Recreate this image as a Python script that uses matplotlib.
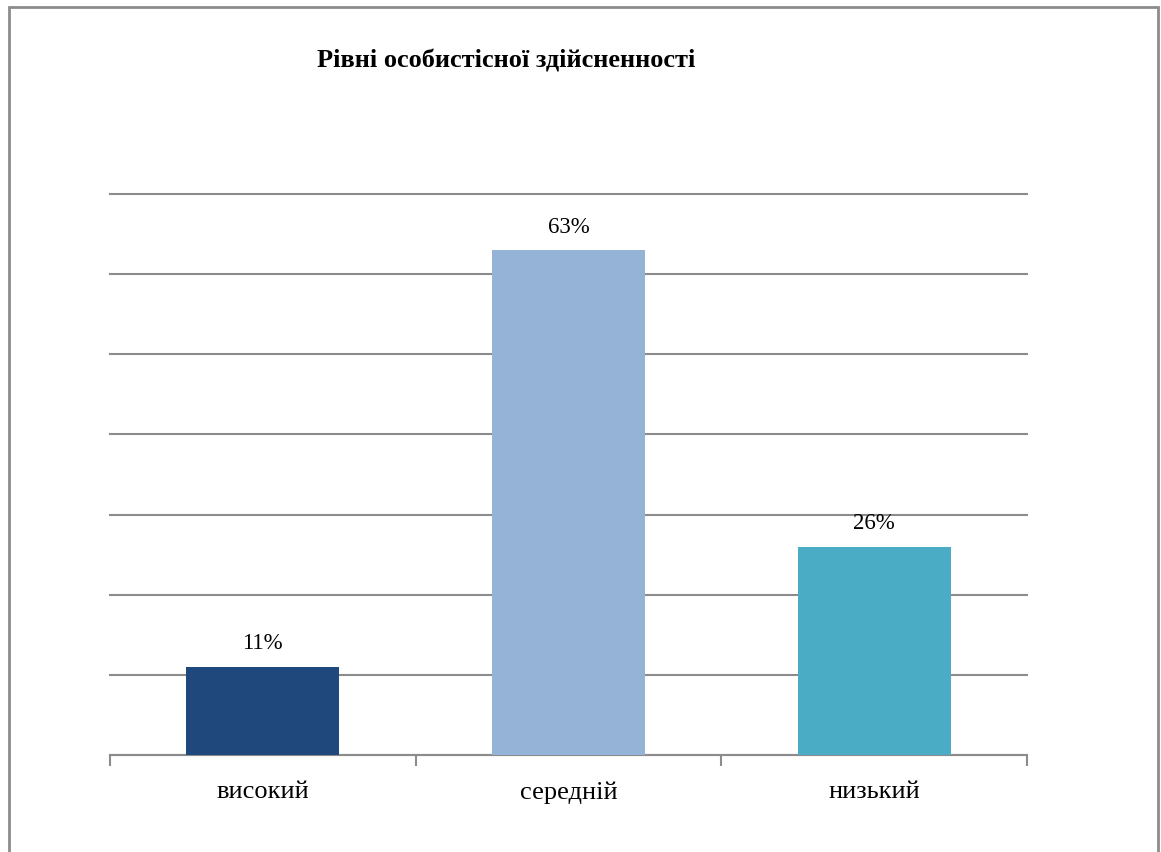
import matplotlib.pyplot as plt
from matplotlib.patches import Rectangle

categories = ['високий', 'середній', 'низький']
values = [11, 63, 26]
value_labels = ['11%', '63%', '26%']
colors = ['#1F497D', '#95B3D7', '#4BACC6']

plt.rcParams['font.family'] = ['Liberation Serif', 'DejaVu Serif']

fig = plt.figure(figsize=(11.61, 8.52), dpi=100)
ax = fig.add_axes([110 / 1161, 1 - 755 / 852, 917 / 1161, 561 / 852])

# рамка навколо діаграми
fig.patches.append(Rectangle((8.5 / 1161, -0.05), 1149 / 1161, 1 - 6.5 / 852 + 0.05,
                             transform=fig.transFigure, fill=False,
                             edgecolor='#8c8c8c', linewidth=2))

x = range(len(categories))
bars = ax.bar(x, values, width=0.5, color=colors, zorder=3)
for b, lab in zip(bars, value_labels):
    ax.annotate(lab, (b.get_x() + b.get_width() / 2, b.get_height()),
                xytext=(0, 9), textcoords='offset points',
                ha='center', va='bottom', fontsize=16.5)

ax.set_xlim(-0.5, 2.5)
ax.set_ylim(0, 70)
ax.set_yticks(range(0, 71, 10))
ax.yaxis.grid(True, color='#8c8c8c', linewidth=1.5)
for gl in ax.get_ygridlines():
    gl.set_clip_on(False)
ax.set_axisbelow(True)
ax.tick_params(axis='y', left=False, labelleft=False)

# поділки між категоріями
ax.set_xticks([-0.5, 0.5, 1.5, 2.5])
ax.set_xticklabels([])
ax.tick_params(axis='x', length=8, width=1.5, color='#8c8c8c')
ax.set_xticks(list(x), minor=True)
ax.set_xticklabels(categories, minor=True, fontsize=19)
ax.tick_params(axis='x', which='minor', length=0, pad=19)

for s in ['left', 'right', 'top']:
    ax.spines[s].set_visible(False)
ax.spines['bottom'].set_color('#8c8c8c')
ax.spines['bottom'].set_linewidth(1.5)

fig.text(506 / 1161, 1 - 61 / 852, 'Рівні особистісної здійсненності',
         ha='center', va='center', fontsize=19, fontweight='bold')

fig.savefig('out.png', dpi=100)
